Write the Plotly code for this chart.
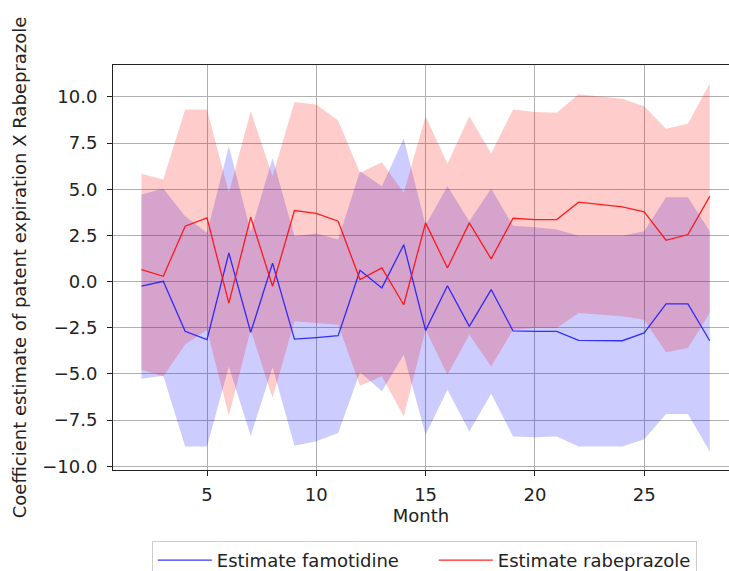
import plotly.graph_objects as go

# Month index of each estimate
months = list(range(2, 29))

# Famotidine: point estimate and confidence band
fam_est = [-0.25, 0.02, -2.69, -3.14, 1.55, -2.75, 1.0, -3.11, -3.03, -2.93, 0.61, -0.34, 2.0,
           -2.64, -0.22, -2.42, -0.43, -2.67, -2.69, -2.69, -3.18, -3.18, -3.2, -2.78, -1.21, -1.21, -3.2]
fam_upper = [4.72, 5.04, 3.54, 2.64, 7.33, 2.7, 6.70, 2.46, 2.6, 2.28, 5.98, 5.17, 7.75,
             3.05, 5.17, 3.27, 5.04, 3.02, 2.94, 2.82, 2.49, 2.49, 2.49, 2.73, 4.57, 4.57, 2.73]
fam_lower = [-5.26, -5.09, -8.93, -8.93, -4.59, -8.35, -4.63, -8.89, -8.65, -8.2, -4.91, -5.94, -3.96,
             -8.29, -5.85, -8.11, -6.07, -8.38, -8.42, -8.38, -8.93, -8.93, -8.93, -8.53, -7.17, -7.17, -9.2]

# Rabeprazole: point estimate and confidence band
rab_est = [0.65, 0.29, 3.0, 3.45, -1.16, 3.49, -0.25, 3.85, 3.7, 3.27, 0.11, 0.74, -1.25,
           3.18, 0.74, 3.18, 1.23, 3.43, 3.36, 3.36, 4.30, 4.17, 4.05, 3.78, 2.24, 2.55, 4.62]
rab_upper = [5.84, 5.53, 9.32, 9.32, 4.81, 9.23, 5.71, 9.72, 9.59, 8.73, 5.89, 6.47, 4.81,
             8.96, 6.38, 8.96, 6.94, 9.32, 9.18, 9.14, 10.14, 10.01, 9.9, 9.5, 8.28, 8.55, 10.73]
rab_lower = [-4.77, -5.13, -3.41, -2.6, -7.26, -2.6, -6.3, -2.15, -2.24, -2.33, -5.64, -5.13, -7.3,
             -2.6, -5.04, -2.87, -4.59, -2.6, -2.51, -2.51, -1.7, -1.79, -1.88, -2.06, -3.83, -3.6, -1.7]

y_ticks = [-10.0, -7.5, -5.0, -2.5, 0.0, 2.5, 5.0, 7.5, 10.0]
x_ticks = [5, 10, 15, 20, 25]

FONT = "DejaVu Sans"
FS = 18

fig = go.Figure()


def add_band(lower, upper, fill_color):
    fig.add_trace(go.Scatter(x=months, y=lower, mode="lines", line=dict(width=0, color=fill_color),
                             showlegend=False, hoverinfo="skip"))
    fig.add_trace(go.Scatter(x=months, y=upper, mode="lines", line=dict(width=0, color=fill_color),
                             fill="tonexty", fillcolor=fill_color, showlegend=False, hoverinfo="skip"))


# confidence bands first, estimate lines on top of both bands
add_band(fam_lower, fam_upper, "rgba(0,0,255,0.2)")
add_band(rab_lower, rab_upper, "rgba(255,0,0,0.2)")
fig.add_trace(go.Scatter(x=months, y=fam_est, mode="lines", name="Estimate famotidine",
                         legendwidth=212,
                         line=dict(color="rgba(20,20,255,0.85)", width=1.3)))
fig.add_trace(go.Scatter(x=months, y=rab_est, mode="lines", name="Estimate rabeprazole",
                         line=dict(color="rgba(255,10,10,0.9)", width=1.3)))

axis_common = dict(
    showline=True, linecolor="#222222", linewidth=1, mirror=True,
    showgrid=True, gridcolor="#b0b0b0", gridwidth=1,
    ticks="outside", ticklen=5, tickwidth=1, tickcolor="#222222",
    tickfont=dict(family=FONT, size=FS, color="#222222"),
    zeroline=False,
)

fig.update_layout(
    width=729, height=571,
    margin=dict(l=113, r=0, t=65, b=101, autoexpand=False),
    paper_bgcolor="white", plot_bgcolor="white",
    font=dict(family=FONT, size=FS, color="#222222"),
    xaxis=dict(range=[0.7, 28.88], tickvals=x_ticks, ticklabelstandoff=3,
               title=dict(text="Month", font=dict(family=FONT, size=FS), standoff=3),
               **axis_common),
    yaxis=dict(range=[-10.2, 11.73], tickvals=y_ticks, tickformat=".1f", ticklabelstandoff=6,
               title=dict(text="Coefficient estimate of patent expiration X Rabeprazole",
                          font=dict(family=FONT, size=FS), standoff=10),
               **axis_common),
    legend=dict(orientation="h", x=0.063, y=-0.175, xanchor="left", yanchor="top",
                traceorder="normal",
                bordercolor="#cccccc", borderwidth=1, bgcolor="white",
                font=dict(family=FONT, size=FS, color="#222222"),
                itemwidth=54),
    showlegend=True,
)

fig.write_html("out.html")
